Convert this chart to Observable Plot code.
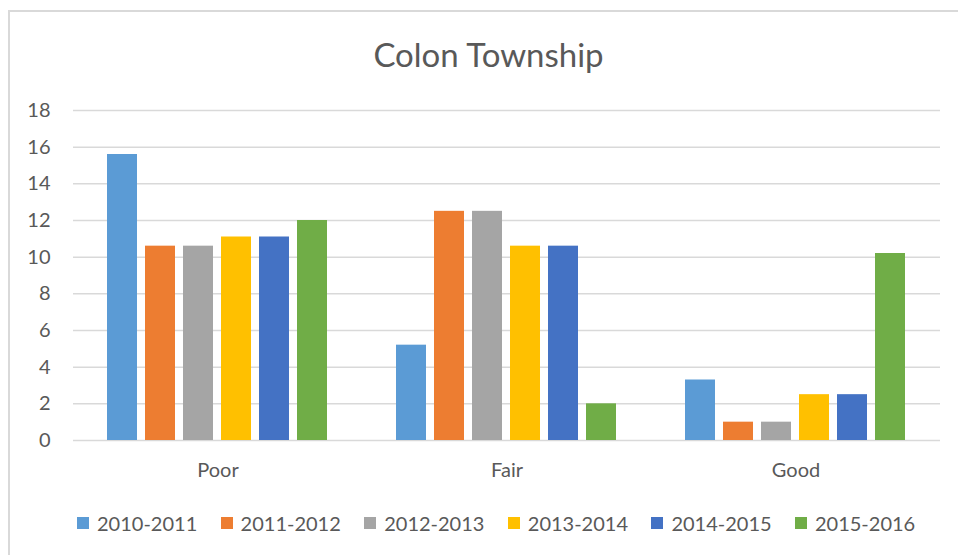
<!DOCTYPE html>
<html>
<head>
<meta charset="utf-8">
<script src="https://cdn.jsdelivr.net/npm/d3@7"></script>
<script src="https://cdn.jsdelivr.net/npm/@observablehq/plot@0.6"></script>
<style>
  html, body { margin: 0; padding: 0; background: #fff; }
  #wrap { position: relative; width: 958px; height: 555px; overflow: hidden; font-family: Lato, "Open Sans", sans-serif; color: #595959; }
  #border { position: absolute; left: 8px; top: 10px; width: 1200px; height: 1000px; border: 2px solid #d9d9d9; box-sizing: border-box; }
  #title { position: absolute; left: 0; width: 977px; top: 34px; text-align: center; font-size: 33px; line-height: 40px; }
  #chart { position: absolute; left: 0; top: 0; }
  #legend { position: absolute; left: 77px; top: 511px; display: flex; }
  .item { width: 143.6px; display: flex; align-items: center; font-size: 20px; line-height: 24px; white-space: nowrap; }
  .sw { width: 12px; height: 12px; margin-right: 8px; flex: none; }
</style>
</head>
<body>
<div id="wrap">
  <div id="border"></div>
  <div id="title"></div>
  <div id="chart"></div>
  <div id="legend"></div>
</div>
<script>
const title = "Colon Township";
const categories = ["Poor", "Fair", "Good"];
const years = ["2010-2011", "2011-2012", "2012-2013", "2013-2014", "2014-2015", "2015-2016"];
const colors = ["#5b9bd5", "#ed7d31", "#a5a5a5", "#ffc000", "#4472c4", "#70ad47"];
const v2010_2011 = [15.6, 5.2, 3.3];
const v2011_2012 = [10.6, 12.5, 1.0];
const v2012_2013 = [10.6, 12.5, 1.0];
const v2013_2014 = [11.1, 10.6, 2.5];
const v2014_2015 = [11.1, 10.6, 2.5];
const v2015_2016 = [12.0, 2.0, 10.2];
const yTicks = [0, 2, 4, 6, 8, 10, 12, 14, 16, 18];

const series = [v2010_2011, v2011_2012, v2012_2013, v2013_2014, v2014_2015, v2015_2016];
const data = [];
categories.forEach((c, i) => {
  years.forEach((y, j) => data.push({category: c, year: y, value: series[j][i]}));
});

document.getElementById("title").textContent = title;

const chart = Plot.plot({
  width: 958,
  height: 500,
  marginTop: 110,
  marginBottom: 60,
  marginLeft: 73,
  marginRight: 18,
  style: {fontFamily: "Lato, 'Open Sans', sans-serif", color: "#595959", background: "transparent"},
  fx: {domain: categories, padding: 0, label: null, axis: null},
  x: {domain: years, paddingInner: 0.2, paddingOuter: 0.86, axis: null},
  y: {domain: [0, 18], label: null, axis: null},
  color: {domain: years, range: colors},
  marks: [
    Plot.gridY(yTicks, {stroke: "#d9d9d9", strokeOpacity: 1, strokeWidth: 1.5}),
    Plot.axisY(yTicks, {tickSize: 0, tickPadding: 23, fontSize: 20, fill: "#595959", label: null}),
    Plot.barY(data, {fx: "category", x: "year", y: "value", fill: "year"}),
    Plot.axisFx({anchor: "bottom", tickSize: 0, tickPadding: 22, fontSize: 20, fill: "#595959", label: null})
  ]
});
document.getElementById("chart").appendChild(chart);

const legend = document.getElementById("legend");
years.forEach((y, j) => {
  const it = document.createElement("div");
  it.className = "item";
  const sw = document.createElement("span");
  sw.className = "sw";
  sw.style.background = colors[j];
  const t = document.createElement("span");
  t.textContent = y;
  it.appendChild(sw);
  it.appendChild(t);
  legend.appendChild(it);
});
</script>
</body>
</html>
